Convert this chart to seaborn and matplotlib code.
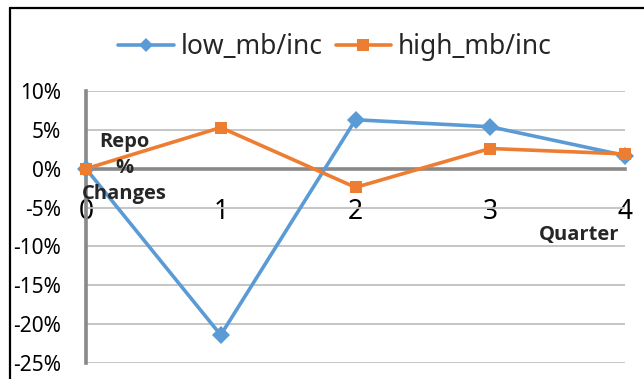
import matplotlib
matplotlib.use("Agg")
import matplotlib.pyplot as plt
import matplotlib.ticker as mticker
from matplotlib.lines import Line2D
import pandas as pd
import seaborn as sns

quarters = [0, 1, 2, 3, 4]
low_mb_inc = [0.0, -21.4, 6.3, 5.4, 1.7]
high_mb_inc = [0.0, 5.3, -2.4, 2.6, 1.9]
series_names = ["low_mb/inc", "high_mb/inc"]
y_ticks = [-25, -20, -15, -10, -5, 0, 5, 10]

sns.set_theme(style="white")
plt.rcParams["font.family"] = ["Noto Sans", "DejaVu Sans"]
bold_family = ["Open Sans", "DejaVu Sans"]

df = pd.DataFrame({
    "Quarter": quarters * 2,
    "Change": low_mb_inc + high_mb_inc,
    "Series": [series_names[0]] * len(quarters) + [series_names[1]] * len(quarters),
})

blue = "#5B9BD5"
orange = "#ED7D31"
axis_grey = "#898989"
grid_grey = "#C0C0C0"

fig = plt.figure(figsize=(6.44, 3.79), dpi=100)
ax = fig.add_axes([86 / 644, 16 / 379, 539 / 644, 272 / 379])

sns.lineplot(
    data=df, x="Quarter", y="Change", hue="Series", style="Series",
    palette={series_names[0]: blue, series_names[1]: orange},
    markers={series_names[0]: "D", series_names[1]: "s"},
    dashes=False, linewidth=2.6, markersize=9, markeredgewidth=0,
    ax=ax, legend=False, clip_on=False, zorder=5,
)

ax.set_xlim(0, 4)
ax.set_ylim(-25, 10)
ax.set_yticks(y_ticks)
ax.yaxis.set_major_formatter(mticker.FuncFormatter(lambda v, _: f"{v:.0f}%"))
ax.set_xticks(quarters)
ax.set_xlabel("")
ax.set_ylabel("")

ax.grid(axis="y", color=grid_grey, linewidth=1.3)
ax.set_axisbelow(True)

for side in ("top", "right"):
    ax.spines[side].set_visible(False)
ax.spines["left"].set_color(axis_grey)
ax.spines["left"].set_linewidth(2.6)
ax.spines["bottom"].set_position(("data", 0))
ax.spines["bottom"].set_color(axis_grey)
ax.spines["bottom"].set_linewidth(2.6)

ax.tick_params(axis="y", direction="in", length=5, width=2, color=axis_grey,
               labelsize=15, pad=18, labelcolor="black")
ax.tick_params(axis="x", direction="out", length=6, width=2, color=axis_grey,
               labelsize=19, pad=15, labelcolor="black")

fig.text(124 / 644, 1 - 168 / 379, "Repo\n%\nChanges", ha="center", va="center",
         fontsize=14.5, fontweight="bold", family=bold_family, linespacing=1.4,
         zorder=10)
fig.text(579 / 644, 1 - 235 / 379, "Quarter", ha="center", va="center",
         fontsize=14.5, fontweight="bold", family=bold_family)

handles = [
    Line2D([], [], color=blue, marker="D", markersize=7, linewidth=2.6, markeredgewidth=0),
    Line2D([], [], color=orange, marker="s", markersize=8, linewidth=2.6, markeredgewidth=0),
]
fig.legend(handles, series_names, loc="center", bbox_to_anchor=(335 / 644, 1 - 47 / 379),
           ncol=2, frameon=False, fontsize=19, handlelength=2.1, handletextpad=0.25,
           columnspacing=0.5)

# outer chart border (top and left edges)
fig.add_artist(Line2D([10 / 644, 1.05], [1 - 8 / 379, 1 - 8 / 379], color="black",
                      linewidth=1.6, transform=fig.transFigure))
fig.add_artist(Line2D([10 / 644, 10 / 644], [1 - 8 / 379, -0.05], color="black",
                      linewidth=1.6, transform=fig.transFigure))

fig.savefig("out.png", dpi=100)
